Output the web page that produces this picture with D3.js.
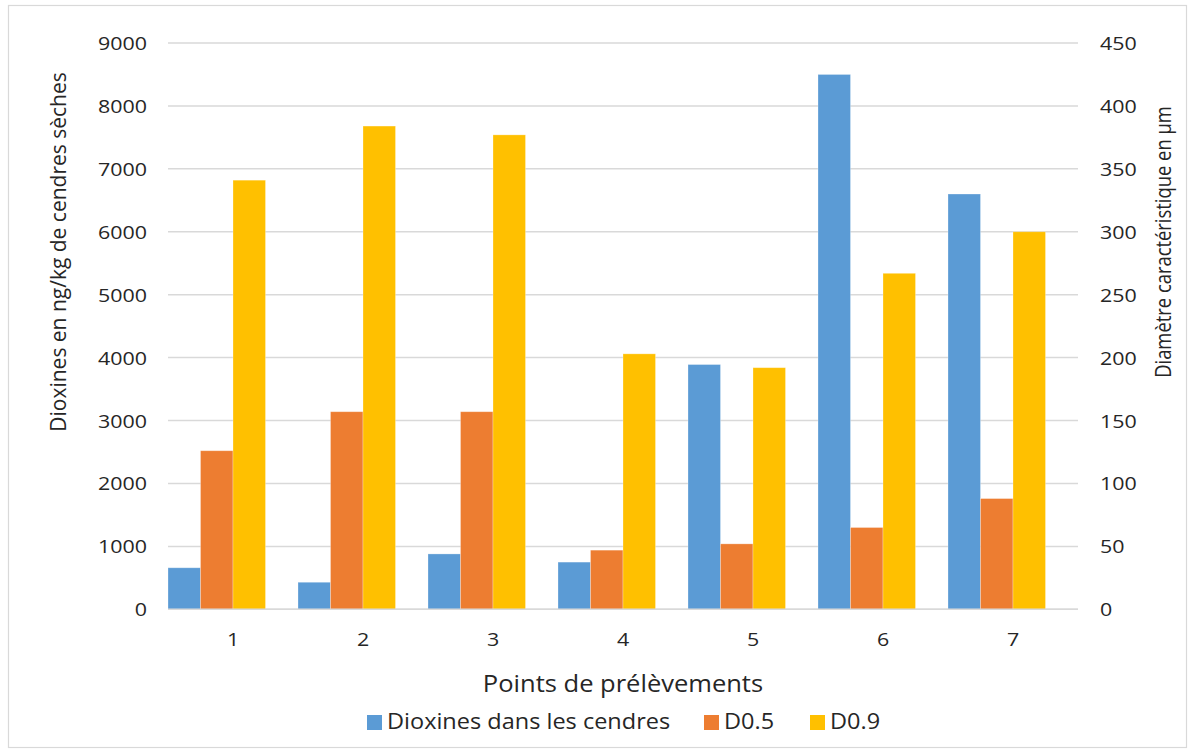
<!DOCTYPE html>
<html>
<head>
<meta charset="utf-8">
<script src="https://cdn.jsdelivr.net/npm/d3@7"></script>
<style>
  body { margin: 0; background: #fff; }
  text { font-family: "Open Sans", "Noto Sans", sans-serif; fill: #262626; }
</style>
</head>
<body>
<svg id="chart" width="1194" height="754"></svg>
<script>
const categories = ["1", "2", "3", "4", "5", "6", "7"];
const dioxines = [660, 430, 880, 750, 3890, 8500, 6600];
const d05 = [126, 157, 157, 47, 52, 65, 88];
const d09 = [341, 384, 377, 203, 192, 267, 300];
const leftTicks = [0, 1000, 2000, 3000, 4000, 5000, 6000, 7000, 8000, 9000];
const rightTicks = [0, 50, 100, 150, 200, 250, 300, 350, 400, 450];
const seriesNames = ["Dioxines dans les cendres", "D0.5", "D0.9"];
const colors = ["#5B9BD5", "#ED7D31", "#FFC000"];

const svg = d3.select("#chart");
const plot = { left: 168, right: 1078, top: 43, bottom: 609.3 };

// horizontal stretch helper (reference text is slightly wide)
function stretch(sel, sx) {
  sel.each(function () {
    const t = d3.select(this);
    const xx = +t.attr("x") || 0, yy = +t.attr("y") || 0;
    t.attr("x", 0).attr("y", 0).attr("transform", `translate(${xx},${yy}) scale(${sx},1)`);
  });
}

// outer border
svg.append("rect").attr("x", 8.5).attr("y", 5.5).attr("width", 1178).attr("height", 742)
  .attr("fill", "none").attr("stroke", "#d9d9d9").attr("stroke-width", 1.2);

const x = d3.scaleBand().domain(categories).range([plot.left, plot.right]).paddingInner(0).paddingOuter(0);
const slot = d3.scaleBand().domain(["diox", "d05", "d09", "empty"]).range([0, x.bandwidth()]);
const yL = d3.scaleLinear().domain([0, 9000]).range([plot.bottom, plot.top]);
const yR = d3.scaleLinear().domain([0, 450]).range([plot.bottom, plot.top]);

// gridlines
svg.append("g").selectAll("line").data(leftTicks).join("line")
  .attr("x1", plot.left).attr("x2", plot.right)
  .attr("y1", d => yL(d)).attr("y2", d => yL(d))
  .attr("stroke", "#d9d9d9").attr("stroke-width", 1.5);

// bars
const seriesDefs = [
  { key: "diox", vals: dioxines, scale: yL, color: colors[0] },
  { key: "d05", vals: d05, scale: yR, color: colors[1] },
  { key: "d09", vals: d09, scale: yR, color: colors[2] }
];
seriesDefs.forEach(s => {
  svg.append("g").selectAll("rect").data(s.vals).join("rect")
    .attr("x", (d, i) => x(categories[i]) + slot(s.key))
    .attr("width", slot.bandwidth())
    .attr("y", d => s.scale(d))
    .attr("height", d => plot.bottom - s.scale(d))
    .attr("fill", s.color)
    .attr("stroke", "rgba(255,255,255,0.35)").attr("stroke-width", 0.8);
});

// baseline
svg.append("line").attr("x1", plot.left).attr("x2", plot.right)
  .attr("y1", plot.bottom).attr("y2", plot.bottom)
  .attr("stroke", "#d9d9d9").attr("stroke-width", 1.5);

// left axis
const axL = svg.append("g").attr("transform", `translate(${plot.left},0)`)
  .call(d3.axisLeft(yL).tickValues(leftTicks).tickSize(0).tickPadding(21).tickFormat(d3.format("d")));
axL.select(".domain").remove();
axL.selectAll("text").style("font-size", "18px").attr("fill", "#262626").attr("dy", "0.36em");
stretch(axL.selectAll("text"), 1.19);

// right axis
const axR = svg.append("g").attr("transform", `translate(${plot.right},0)`)
  .call(d3.axisRight(yR).tickValues(rightTicks).tickSize(0).tickPadding(22).tickFormat(d3.format("d")));
axR.select(".domain").remove();
axR.selectAll("text").style("font-size", "18px").attr("fill", "#262626").attr("dy", "0.36em");
stretch(axR.selectAll("text"), 1.19);

// x axis
const axX = svg.append("g").attr("transform", `translate(0,${plot.bottom})`)
  .call(d3.axisBottom(x).tickSize(0).tickPadding(24));
axX.select(".domain").remove();
axX.selectAll("text").style("font-size", "18px").attr("fill", "#262626");
stretch(axX.selectAll("text"), 1.19);

// axis titles
svg.append("text").attr("transform", "translate(66,252) rotate(-90) scale(1,1.06)")
  .attr("text-anchor", "middle").style("font-size", "21px")
  .text("Dioxines en ng/kg de cendres sèches");
svg.append("text").attr("transform", "translate(1171,242) rotate(-90) scale(1,1.18)")
  .attr("text-anchor", "middle").style("font-size", "18.4px")
  .text("Diamètre caractéristique en µm");
const xt = svg.append("text").attr("x", 623).attr("y", 692)
  .attr("text-anchor", "middle").style("font-size", "23px")
  .text("Points de prélèvements");
stretch(xt, 1.11);

// legend
const legendX = [367, 704, 810];
const lg = svg.append("g");
seriesNames.forEach((n, i) => {
  lg.append("rect").attr("x", legendX[i]).attr("y", 715).attr("width", 15).attr("height", 15).attr("fill", colors[i]);
  const t = lg.append("text").attr("x", legendX[i] + 20).attr("y", 729).style("font-size", "21px").text(n);
  stretch(t, 1.12);
});
</script>
</body>
</html>
